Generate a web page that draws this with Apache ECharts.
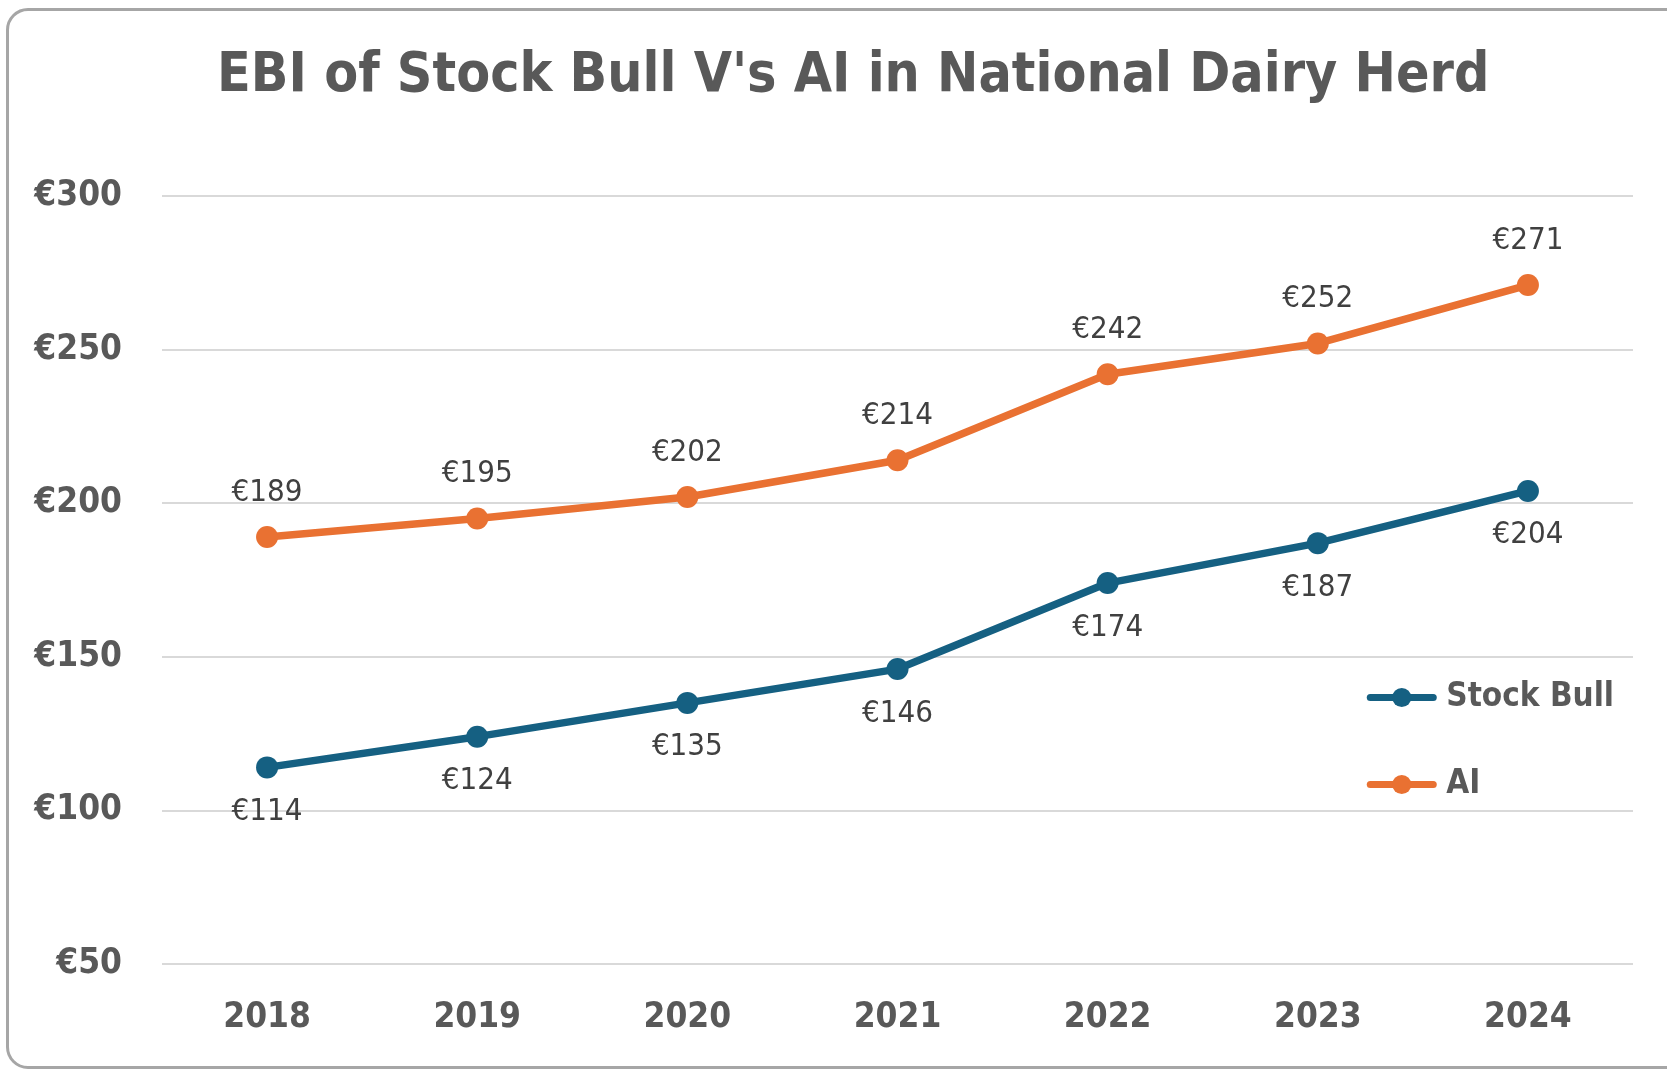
<!DOCTYPE html>
<html>
<head>
<meta charset="utf-8">
<title>EBI of Stock Bull V's AI</title>
<script src="https://cdn.jsdelivr.net/npm/echarts@6/dist/echarts.min.js"></script>
<style>
  html, body { margin: 0; padding: 0; background: #fff; }
  #frame {
    position: absolute; left: 6px; top: 8px; width: 1700px; height: 1061px;
    border: 3px solid #a6a6a6; border-radius: 22px; box-sizing: border-box;
  }
  #main { position: absolute; left: 0; top: 0; width: 1667px; height: 1076px; }
</style>
</head>
<body>
<div id="frame"></div>
<div id="main"></div>
<script>
var years = ['2018', '2019', '2020', '2021', '2022', '2023', '2024'];
var stockBull = [114, 124, 135, 146, 174, 187, 204];
var ai = [189, 195, 202, 214, 242, 252, 271];
var yTicks = [50, 100, 150, 200, 250, 300];

var FONT = '"Liberation Sans Narrow", "DejaVu Sans Condensed", Roboto, sans-serif';
var BLUE = '#156082';
var ORANGE = '#e97132';

var chart = echarts.init(document.getElementById('main'));

function lineSeries(name, data, color, labelPos) {
  return {
    name: name,
    type: 'line',
    data: data,
    symbol: 'circle',
    symbolSize: 22,
    lineStyle: { color: color, width: 7.5 },
    itemStyle: { color: color },
    label: {
      show: true,
      position: labelPos,
      distance: 18,
      formatter: function (p) { return '€' + p.value; },
      color: '#404040',
      fontFamily: FONT,
      fontSize: 31
    },
    animation: false
  };
}

chart.setOption({
  title: {
    text: "EBI of Stock Bull V's AI in National Dairy Herd",
    left: 212,
    top: 44,
    textStyle: { fontFamily: FONT, fontWeight: 'bold', fontSize: 55, color: '#595959' }
  },
  grid: { left: 162, right: 34, top: 196, bottom: 112 },
  legend: {
    orient: 'vertical',
    right: 48,
    top: 676,
    itemWidth: 63,
    itemHeight: 24,
    itemGap: 54,
    data: ['Stock Bull', 'AI'],
    lineStyle: { width: 7, cap: 'round' },
    textStyle: { fontFamily: FONT, fontWeight: 'bold', fontSize: 33, color: '#595959', padding: [0, 0, 0, 8] }
  },
  xAxis: {
    type: 'category',
    data: years,
    boundaryGap: true,
    axisLine: { show: false },
    axisTick: { show: false },
    axisLabel: {
      margin: 36,
      fontFamily: FONT, fontWeight: 'bold', fontSize: 35, color: '#595959'
    }
  },
  yAxis: {
    type: 'value',
    min: yTicks[0],
    max: yTicks[yTicks.length - 1],
    interval: 50,
    axisLine: { show: false },
    axisTick: { show: false },
    splitLine: { lineStyle: { color: '#d9d9d9', width: 2 } },
    axisLabel: {
      margin: 40,
      formatter: function (v) { return '€' + v; },
      fontFamily: FONT, fontWeight: 'bold', fontSize: 35, color: '#595959'
    }
  },
  series: [
    lineSeries('Stock Bull', stockBull, BLUE, 'bottom'),
    lineSeries('AI', ai, ORANGE, 'top')
  ]
});
</script>
</body>
</html>
